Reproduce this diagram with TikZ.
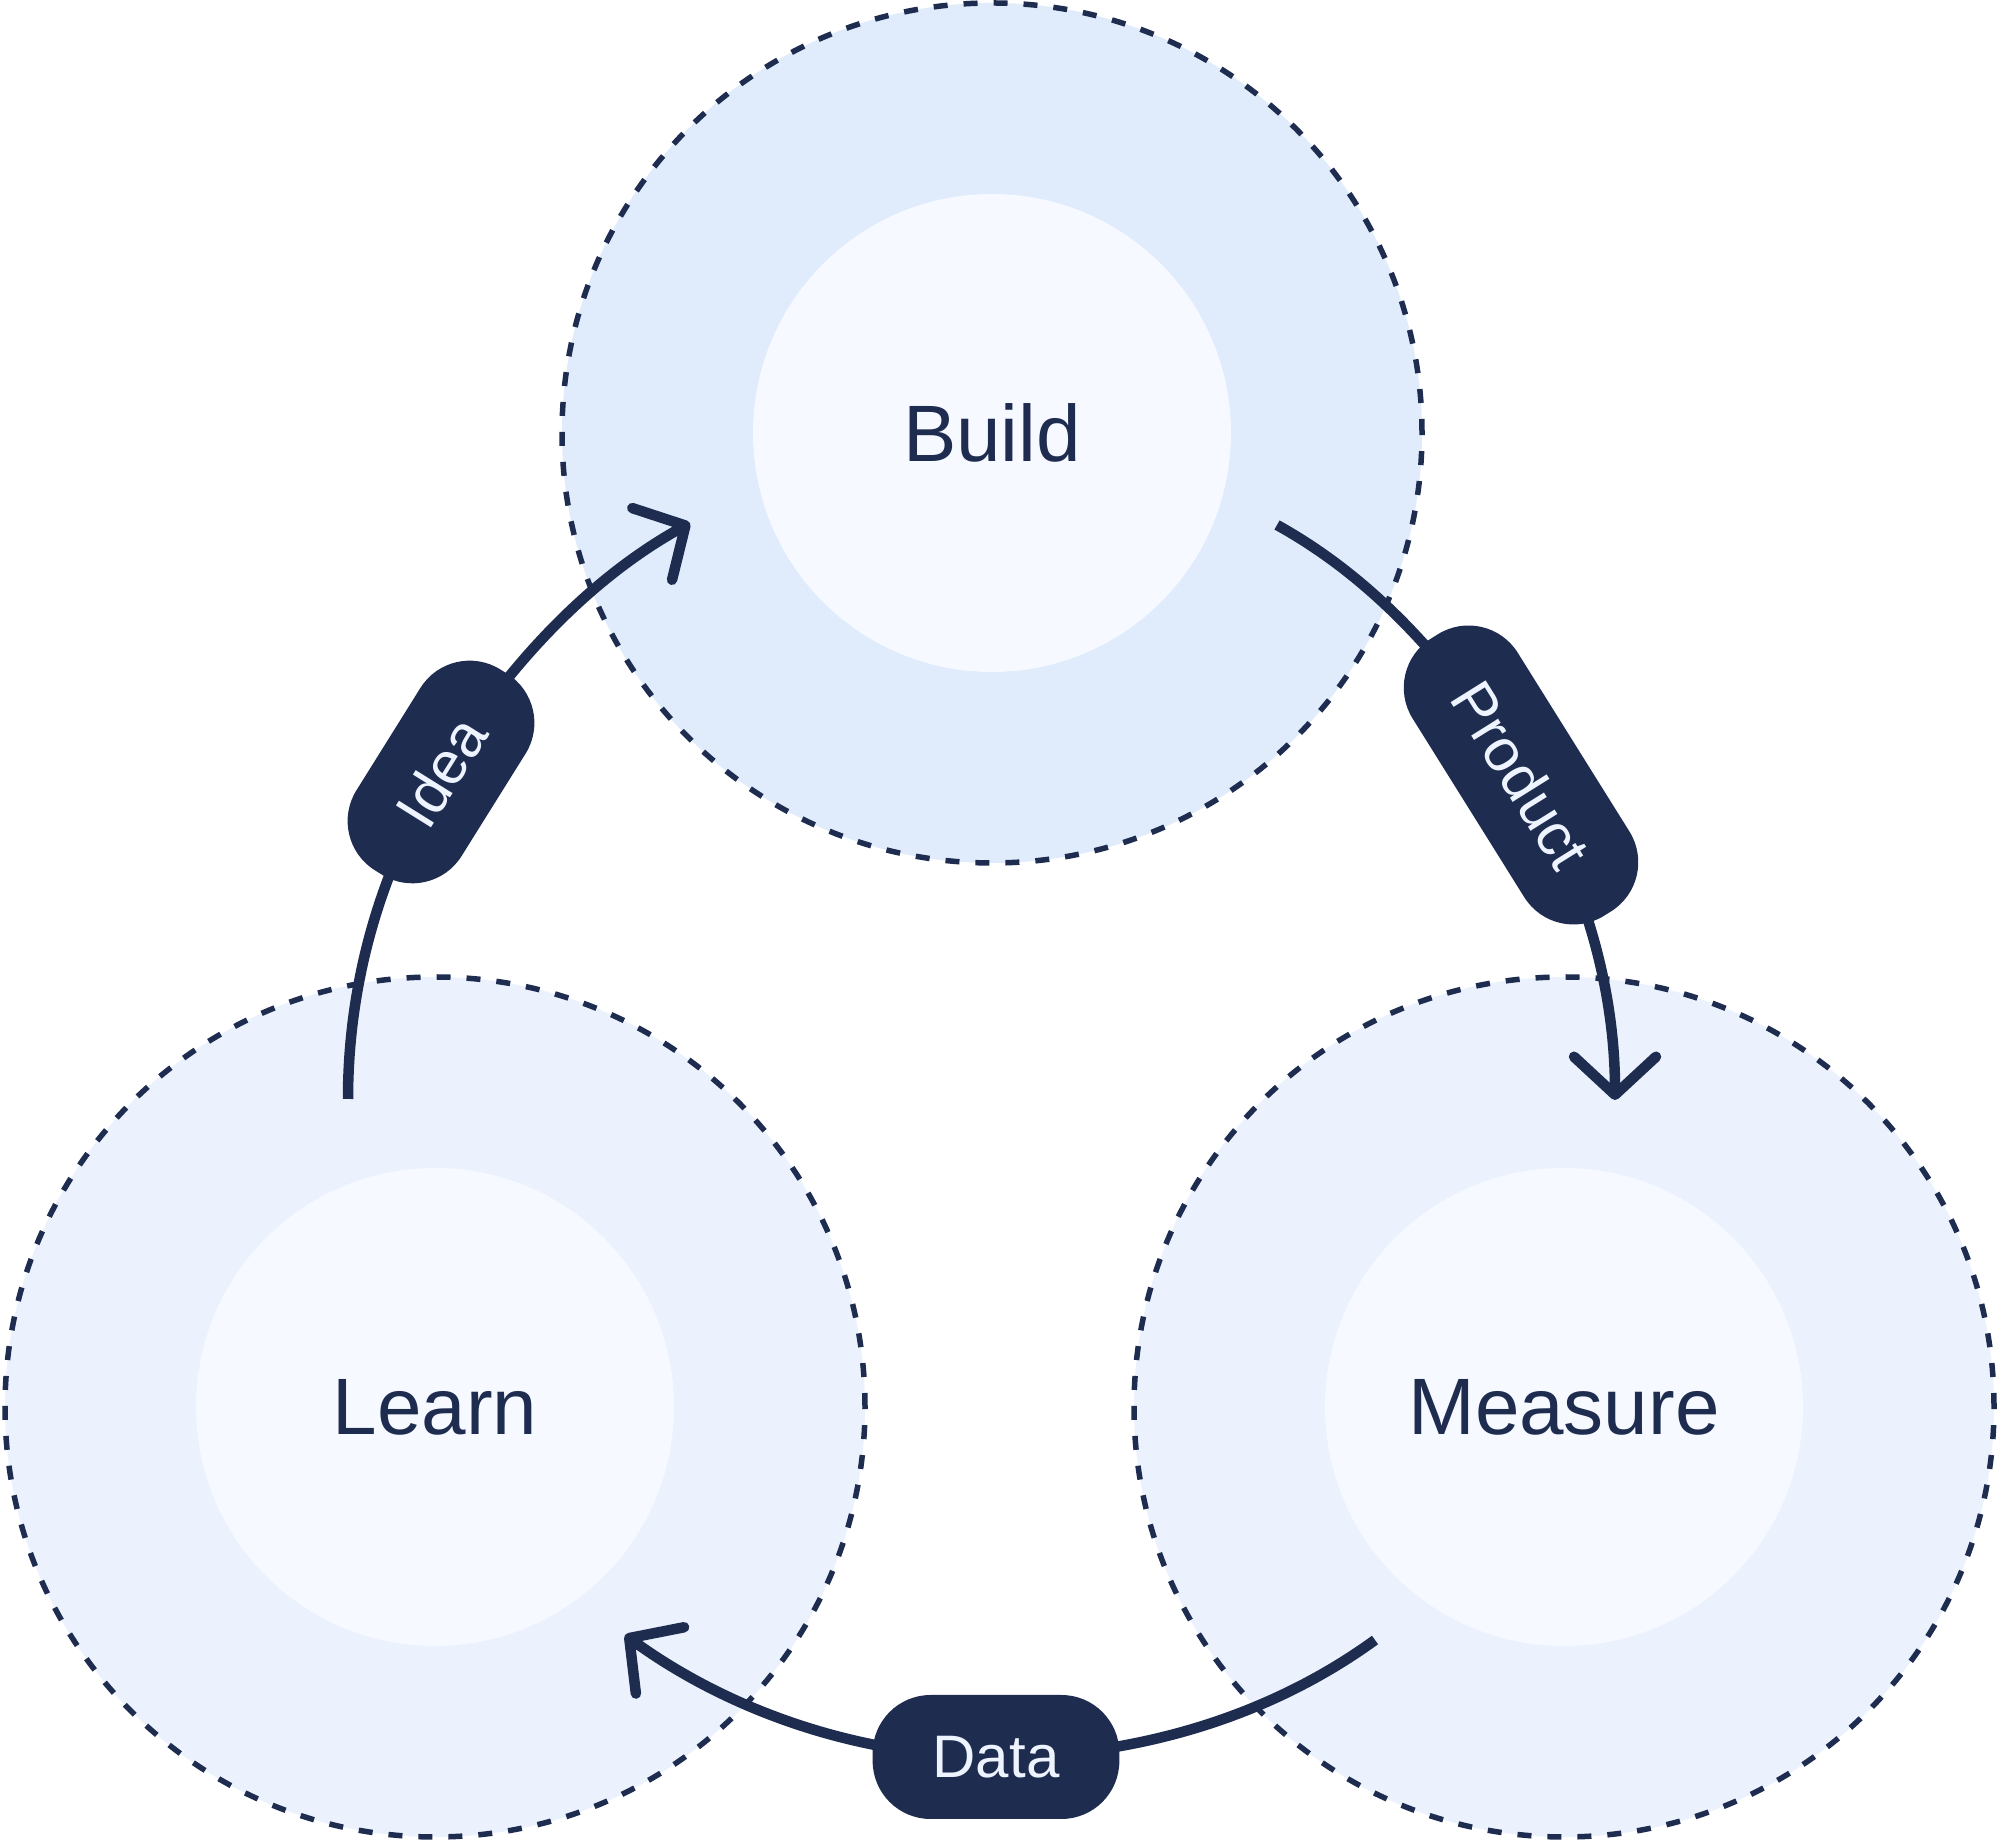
\documentclass[tikz,border=0pt]{standalone}
\usepackage{fontspec}
\setmainfont{Liberation Sans}
\usetikzlibrary{arrows.meta}
\definecolor{navy}{HTML}{1E2D4F}
\definecolor{buildouter}{HTML}{E0ECFC}
\definecolor{sideouter}{HTML}{EBF2FD}
\definecolor{innerfill}{HTML}{F6F9FF}
\definecolor{pilltext}{HTML}{EEF4FF}
\begin{document}
\begin{tikzpicture}[x=1pt,y=1pt,
  outerring/.style={circle, minimum size=860pt, inner sep=0pt, draw=navy, line width=5.5pt, dash pattern=on 14pt off 16pt},
  core/.style={circle, minimum size=478pt, inner sep=0pt, fill=innerfill, text=navy, font=\fontsize{80}{96}\selectfont},
  flow/.style={draw=navy, line width=10.5pt, looseness=0.87, -{Straight Barb[round,length=38pt,width=82pt]}},
  pill/.style={fill=navy, text=pilltext, rounded corners=58pt, minimum height=124pt, inner xsep=60pt, inner ysep=0pt, font=\fontsize{60}{72}\selectfont}]
\useasboundingbox (0,0) rectangle (2000,1841);
\fill[white] (0,0) rectangle (2000,1841);

% outer rings
\node[outerring, fill=buildouter] (buildring) at (992,1408) {};
\node[outerring, fill=sideouter] (learnring) at (435,434) {};
\node[outerring, fill=sideouter] (measurering) at (1564,434) {};

% inner cores
\node[core] (build) at (buildring.center) {Build};
\node[core] (learn) at (learnring.center) {Learn};
\node[core] (measure) at (measurering.center) {Measure};

% connector anchor points
\coordinate (ideaS) at (348,742);
\coordinate (ideaP) at (441,1069);
\coordinate (ideaT) at (690,1318);
\coordinate (prodS) at (1277,1316);
\coordinate (prodP) at (1521,1066);
\coordinate (prodT) at (1615,741);
\coordinate (dataS) at (1375,201);
\coordinate (dataP) at (996,84);
\coordinate (dataT) at (625,206);

% connectors
\draw[flow] (ideaS) to[out=90,in=238] (ideaP) to[out=58,in=209] (ideaT);
\draw[flow] (prodS) to[out=-29,in=122] (prodP) to[out=-58,in=90] (prodT);
\draw[flow] (dataS) to[out=-144,in=0] (dataP) to[out=180,in=-36] (dataT);

% labels
\node[pill, rotate=58] (idea) at (ideaP) {Idea};
\node[pill, rotate=-58] (product) at (prodP) {Product};
\node[pill] (data) at (dataP) {Data};
\end{tikzpicture}
\end{document}
